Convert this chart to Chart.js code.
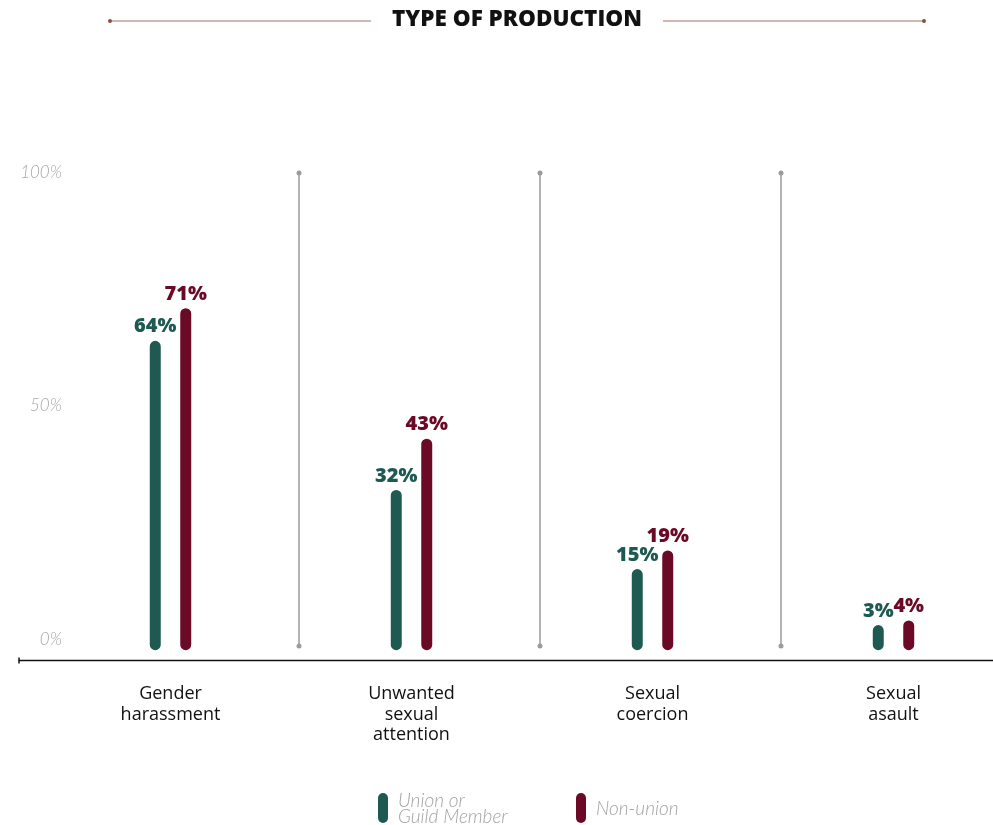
<!DOCTYPE html>
<html>
<head>
<meta charset="utf-8">
<title>Type of production</title>
<script src="https://cdn.jsdelivr.net/npm/chart.js@4.4.0/dist/chart.umd.min.js"></script>
<style>
  html, body { margin: 0; padding: 0; background: #fff; overflow: hidden; }
  #wrap { position: relative; width: 1014px; height: 825px; }
</style>
</head>
<body>
<div id="wrap"><canvas id="chart" width="1014" height="825"></canvas></div>
<script>
const chartTitle = "TYPE OF PRODUCTION";
const categories = [
  ["Gender", "harassment"],
  ["Unwanted", "sexual", "attention"],
  ["Sexual", "coercion"],
  ["Sexual", "asault"],
];
const unionValues = [64, 32, 15, 3];
const nonUnionValues = [71, 43, 19, 4];
const seriesLabels = [["Union or", "Guild Member"], ["Non-union"]];
const yTicks = [0, 50, 100];

const GREEN = "#1e5a52";
const RED = "#6b0a26";

const decor = {
  id: "decor",
  beforeDatasetsDraw(chart) {
    const { ctx, chartArea, scales } = chart;
    const x = scales.x, y = scales.y;
    ctx.save();
    // y tick labels, right aligned just inside the plot
    ctx.font = "italic 300 17px Lato";
    ctx.fillStyle = "#a8a8a8";
    ctx.textAlign = "right";
    ctx.textBaseline = "middle";
    yTicks.forEach(v => {
      ctx.fillText(v + "%", chartArea.left + 12, y.getPixelForValue(v));
    });
    // separators between categories
    ctx.strokeStyle = "#9b9b9b";
    ctx.fillStyle = "#9b9b9b";
    ctx.lineWidth = 1.5;
    const top = y.getPixelForValue(100);
    const bot = y.getPixelForValue(-1.5);
    for (let i = 0; i < categories.length - 1; i++) {
      const sx = (x.getPixelForValue(i) + x.getPixelForValue(i + 1)) / 2 + 8;
      ctx.beginPath();
      ctx.moveTo(sx, top);
      ctx.lineTo(sx, bot);
      ctx.stroke();
      [top, bot].forEach(py => {
        ctx.beginPath();
        ctx.arc(sx, py, 2.5, 0, Math.PI * 2);
        ctx.fill();
      });
    }
    // x axis line
    const ay = chartArea.bottom + 0.5;
    const ax = chartArea.left - 31;
    ctx.strokeStyle = "#111";
    ctx.lineWidth = 1.5;
    ctx.beginPath();
    ctx.moveTo(ax, ay);
    ctx.lineTo(chart.width, ay);
    ctx.moveTo(ax, ay - 3);
    ctx.lineTo(ax, ay + 3);
    ctx.stroke();
    ctx.restore();
  },
  afterDatasetsDraw(chart) {
    const { ctx } = chart;
    ctx.save();
    ctx.font = "800 20px 'Open Sans'";
    ctx.textAlign = "center";
    ctx.textBaseline = "middle";
    chart.data.datasets.forEach((ds, di) => {
      const meta = chart.getDatasetMeta(di);
      ctx.fillStyle = ds.backgroundColor;
      meta.data.forEach((bar, i) => {
        ctx.fillText(ds.data[i] + "%", bar.x, bar.y - 14);
      });
    });
    ctx.restore();
  },
  afterDraw(chart) {
    const { ctx } = chart;
    ctx.save();
    // title with side rules
    const tx = 517, ty = 20;
    ctx.font = "800 22.5px 'Open Sans'";
    ctx.fillStyle = "#111";
    ctx.textAlign = "center";
    ctx.textBaseline = "middle";
    ctx.fillText(chartTitle, tx, ty);
    const tw = ctx.measureText(chartTitle).width;
    ctx.strokeStyle = "#c2a39a";
    ctx.lineWidth = 1.5;
    ctx.beginPath();
    ctx.moveTo(110, ty + 1);
    ctx.lineTo(tx - tw / 2 - 21, ty + 1);
    ctx.moveTo(tx + tw / 2 + 21, ty + 1);
    ctx.lineTo(924, ty + 1);
    ctx.stroke();
    ctx.fillStyle = "#8e4f42";
    [110, 924].forEach(px => {
      ctx.beginPath();
      ctx.arc(px, ty + 1, 2, 0, Math.PI * 2);
      ctx.fill();
    });
    // legend
    const legendX = [378, 576];
    ctx.font = "italic 300 19px Lato";
    ctx.textAlign = "left";
    chart.data.datasets.forEach((ds, di) => {
      const lx = legendX[di];
      ctx.fillStyle = ds.backgroundColor;
      ctx.beginPath();
      ctx.roundRect(lx, 793, 10, 30, 5);
      ctx.fill();
      ctx.fillStyle = "#a3a3a3";
      const lines = seriesLabels[di];
      const cy = 809;
      lines.forEach((t, li) => {
        ctx.fillText(t, lx + 20, cy + (li - (lines.length - 1) / 2) * 16);
      });
    });
    ctx.restore();
  },
};

new Chart(document.getElementById("chart"), {
  type: "bar",
  data: {
    labels: categories,
    datasets: [
      {
        label: "Union or Guild Member",
        data: unionValues,
        backgroundColor: GREEN,
      },
      {
        label: "Non-union",
        data: nonUnionValues,
        backgroundColor: RED,
      },
    ],
  },
  options: {
    responsive: false,
    animation: false,
    layout: { padding: { top: 173, left: 0, right: 0, bottom: 0 } },
    datasets: {
      bar: {
        base: -2.4,
        borderRadius: 6,
        borderSkipped: false,
        categoryPercentage: 0.253,
        barPercentage: 0.36,
      },
    },
    plugins: {
      legend: { display: false },
      tooltip: { enabled: false },
    },
    scales: {
      x: {
        grid: { display: false },
        border: { display: false },
        ticks: {
          color: "#111",
          padding: 16,
          font: { family: "Open Sans", size: 18, lineHeight: 1.14 },
          maxRotation: 0,
          autoSkip: false,
        },
        afterFit(scale) { scale.height = 165; },
      },
      y: {
        min: -4.5,
        max: 100,
        grid: { display: false, drawTicks: false },
        border: { display: false },
        ticks: { display: false },
        afterBuildTicks(scale) { scale.ticks = yTicks.map(v => ({ value: v })); },
        afterFit(scale) { scale.width = 50; },
      },
    },
  },
  plugins: [decor],
});
</script>
</body>
</html>
